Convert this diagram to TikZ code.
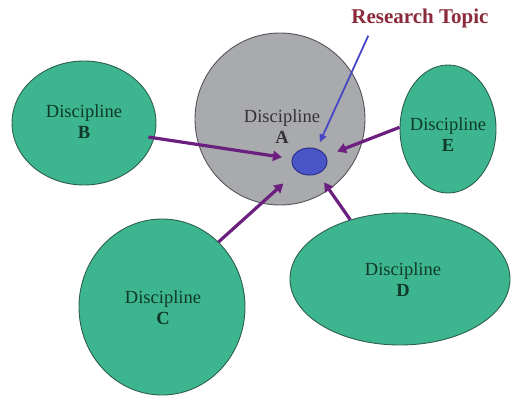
\documentclass[tikz,border=0pt]{standalone}
\usepackage{fontspec}
\setmainfont{Liberation Serif}
\usetikzlibrary{shapes.geometric,arrows.meta}
\definecolor{discgreen}{HTML}{3DB68F}
\definecolor{discedge}{HTML}{2E5E50}
\definecolor{agray}{HTML}{A9AAAE}
\definecolor{aedge}{HTML}{555558}
\definecolor{topicblue}{HTML}{4A55C8}
\definecolor{topicedge}{HTML}{2A2F8A}
\definecolor{arrpurple}{HTML}{6B1F7E}
\definecolor{rtblue}{HTML}{4747C4}
\definecolor{rtred}{HTML}{8B2A3A}
\definecolor{gtext}{HTML}{10392C}
\tikzset{
  disc/.style={ellipse, draw=discedge, line width=0.9pt, fill=discgreen, inner sep=0pt},
  disctext/.style={align=center, text=gtext, font=\fontsize{18.5}{21}\selectfont, inner sep=0pt},
  arr/.style={draw=arrpurple, line width=3.2pt, -{Triangle[length=9pt,width=10pt]}},
  rtarr/.style={draw=rtblue, line width=1.8pt, -{Triangle[length=8pt,width=7pt]}}
}
\begin{document}
\begin{tikzpicture}[x=1pt,y=-1pt]
\useasboundingbox (0,0) rectangle (511,396);
% ellipses
\node[ellipse, draw=aedge, line width=0.9pt, fill=agray, minimum width=170pt, minimum height=172pt, inner sep=0pt] (A) at (280,119) {};
\node[disc, minimum width=144pt, minimum height=124pt] (B) at (84,123) {};
\node[disc, minimum width=96pt, minimum height=128pt] (E) at (448,129) {};
\node[disc, minimum width=166pt, minimum height=176pt] (C) at (162,307) {};
\node[disc, minimum width=220pt, minimum height=132pt] (D) at (400,279) {};
\node[ellipse, draw=topicedge, line width=1pt, fill=topicblue, minimum width=35pt, minimum height=27pt, inner sep=0pt] (T) at (309.5,161.5) {};
% texts
\node[disctext, text=black!80] (At) at (282,127) {Discipline\\\textbf{A}};
\node[disctext] (Bt) at (84,122) {Discipline\\\textbf{B}};
\node[disctext] (Et) at (448,135) {Discipline\\\textbf{E}};
\node[disctext] (Ct) at (163,308) {Discipline\\\textbf{C}};
\node[disctext] (Dt) at (403,280) {Discipline\\\textbf{D}};
\node[text=rtred, font=\fontsize{21}{24}\selectfont\bfseries, inner sep=0pt] (RT) at (420,18) {Research Topic};
% arrows
\draw[arr, shorten <=-6pt, shorten >=10pt] (B.-12) -- (T.171);
\draw[arr, shorten >=12pt] (E.178) -- (T.19);
\draw[arr, shorten >=18pt] (C.49) -- (T.218);
\draw[arr, shorten >=10.5pt] (D.130) -- (T.-55);
\draw[rtarr, shorten >=7pt] ([xshift=17pt,yshift=-8pt]RT.south west) -- (T.60);
\end{tikzpicture}
\end{document}
